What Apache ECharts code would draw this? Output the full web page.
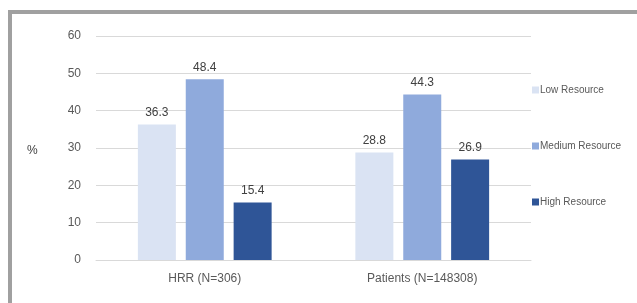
<!DOCTYPE html>
<html>
<head>
<meta charset="utf-8">
<script src="https://cdn.jsdelivr.net/npm/echarts@6/dist/echarts.min.js"></script>
<style>
  html, body { margin: 0; padding: 0; background: #fff; }
  #wrap { position: relative; width: 637px; height: 303px; overflow: hidden; }
  #frame { position: absolute; left: 8px; top: 10px; width: 640px; height: 300px;
           border-left: 4px solid #a0a0a0; border-top: 4px solid #a0a0a0; }
  #chart { position: absolute; left: 0; top: 0; width: 637px; height: 303px; }
</style>
</head>
<body>
<div id="wrap">
  <div id="frame"></div>
  <div id="chart"></div>
</div>
<script>
const categories = ['HRR (N=306)', 'Patients (N=148308)'];
const lowResource = [36.3, 28.8];
const mediumResource = [48.4, 44.3];
const highResource = [15.4, 26.9];
const seriesNames = ['Low Resource', 'Medium Resource', 'High Resource'];
const colors = ['#dae3f3', '#8faadc', '#2f5597'];

const chart = echarts.init(document.getElementById('chart'), null, { renderer: 'canvas' });
const font = 'Liberation Sans, Arial, sans-serif';
const textColor = '#595959';

const makeSeries = (name, data, color) => ({
    name: name,
    type: 'bar',
    data: data,
    barWidth: 38,
    barGap: '26%',
    itemStyle: { color: color },
    label: {
        show: true,
        position: 'top',
        distance: 6,
        color: '#404040',
        fontSize: 12,
        fontFamily: font,
        formatter: p => p.value.toFixed(1),
    },
});

chart.setOption({
    animation: false,
    textStyle: { fontFamily: font },
    grid: { left: 96, right: 106, top: 36, bottom: 43 },
    legend: {
        orient: 'vertical',
        left: 527,
        top: 80,
        itemGap: 46,
        itemWidth: 7,
        itemHeight: 7,
        icon: 'rect',
        data: seriesNames,
        textStyle: { color: textColor, fontSize: 10, fontFamily: font, padding: [0, 0, 0, -4] },
    },
    graphic: [{
        type: 'text',
        left: 27,
        top: 145,
        style: { text: '%', fill: '#404040', fontSize: 12, fontFamily: font },
    }],
    xAxis: {
        type: 'category',
        data: categories,
        axisTick: { show: false },
        axisLine: { lineStyle: { color: '#d9d9d9' } },
        axisLabel: { color: textColor, fontSize: 12, margin: 13 },
    },
    yAxis: {
        type: 'value',
        min: 0,
        max: 60,
        interval: 10,
        axisLine: { show: false },
        axisTick: { show: false },
        axisLabel: { color: textColor, fontSize: 12, margin: 15 },
        splitLine: { lineStyle: { color: '#d9d9d9' } },
    },
    series: [
        makeSeries(seriesNames[0], lowResource, colors[0]),
        makeSeries(seriesNames[1], mediumResource, colors[1]),
        makeSeries(seriesNames[2], highResource, colors[2]),
    ],
});
</script>
</body>
</html>
